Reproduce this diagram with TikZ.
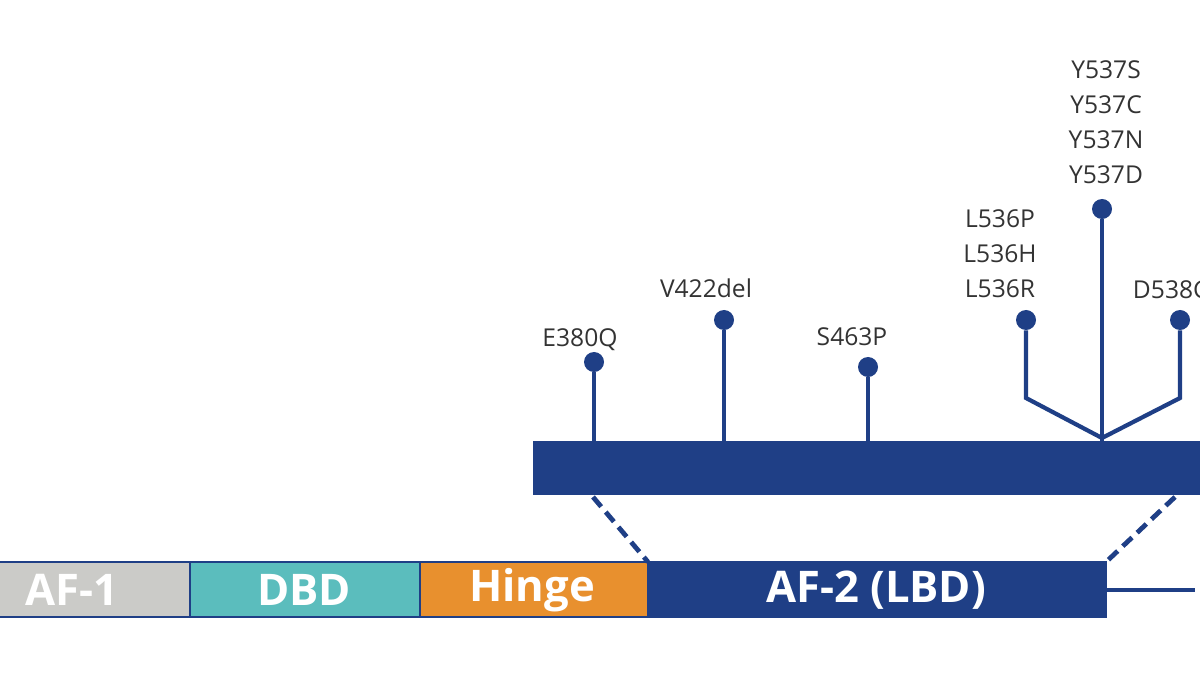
\documentclass[tikz,border=0pt]{standalone}
\usepackage{fontspec}
\setmainfont{Open Sans}
\definecolor{navy}{HTML}{1F3F86}
\definecolor{afgray}{HTML}{CBCBC8}
\definecolor{teal2}{HTML}{5BBDBD}
\definecolor{orng}{HTML}{E8902E}
\definecolor{txt}{HTML}{333333}
\begin{document}
\begin{tikzpicture}[x=0.025cm,y=-0.025cm,
  seg/.style={draw=navy,line width=0.8pt,inner sep=0,outer sep=0},
  stem/.style={draw=navy,line width=3pt},
  dotc/.style={circle,fill=navy,minimum size=0.5cm,inner sep=0},
  lbl/.style={text=txt,font=\fontsize{17.5}{25}\selectfont,align=center},
  dom/.style={text=white,font=\bfseries\fontsize{31}{34}\selectfont}]
\useasboundingbox (0,0) rectangle (1200,675);
\begin{scope}
\clip (0,0) rectangle (1200,675);
% bottom bar
\path[seg,fill=afgray] (-5,562) rectangle (190,617);
\path[seg,fill=teal2] (190,562) rectangle (420,617);
\path[seg,fill=orng] (420,562) rectangle (648,617);
\path[seg,fill=navy] (648,562) rectangle (1106,617);
\node[dom] (af1) at (72,590) {AF-1};
\node[dom] (dbd) at (304,590) {DBD};
\node[dom] (hinge) at (532,590) {Hinge};
\node[dom] (af2) at (876,590) {AF-2 (LBD)};
\coordinate (tail0) at (1106,590);
\coordinate (tail1) at (1195,590);
\draw[navy,line width=2.8pt] (tail0) -- (tail1);
% top bar
\path[fill=navy] (533,441) rectangle (1230,495);
\coordinate (tl) at (593,497); \coordinate (bl) at (648,562);
\coordinate (tr) at (1175,497); \coordinate (br) at (1106,562);
\draw[navy,line width=3.4pt,dash pattern=on 9pt off 5pt] (tl) -- (bl);
\draw[navy,line width=3.4pt,dash pattern=on 9pt off 5pt] (tr) -- (br);
% lollipops
\node[dotc] (e380) at (594,362) {};
\draw[stem] (e380) -- (594,441);
\node[lbl] (le380) at (580,340) {E380Q};
\node[dotc] (v422) at (724,320) {};
\draw[stem] (v422) -- (724,441);
\node[lbl] (lv422) at (706,288) {V422del};
\node[dotc] (s463) at (868,367) {};
\draw[stem] (s463) -- (868,441);
\node[lbl] (ls463) at (852,337) {S463P};
\coordinate (hub) at (1102,438);
\node[dotc] (l536) at (1026,320) {};
\draw[stem,line join=miter] (l536) -- (1026,398) -- (hub);
\node[lbl,text width=3cm] (ll536) at (1000,254) {L536P\\L536H\\L536R};
\node[dotc] (y537) at (1102,209) {};
\draw[stem] (y537) -- (hub) -- (1102,441);
\node[lbl,text width=3cm] (ly537) at (1106,122) {Y537S\\Y537C\\Y537N\\Y537D};
\node[dotc] (d538) at (1180,320) {};
\draw[stem,line join=miter] (d538) -- (1180,398) -- (hub);
\node[lbl,anchor=west] (ld538) at (1128,290) {D538G};
\end{scope}
\end{tikzpicture}
\end{document}
